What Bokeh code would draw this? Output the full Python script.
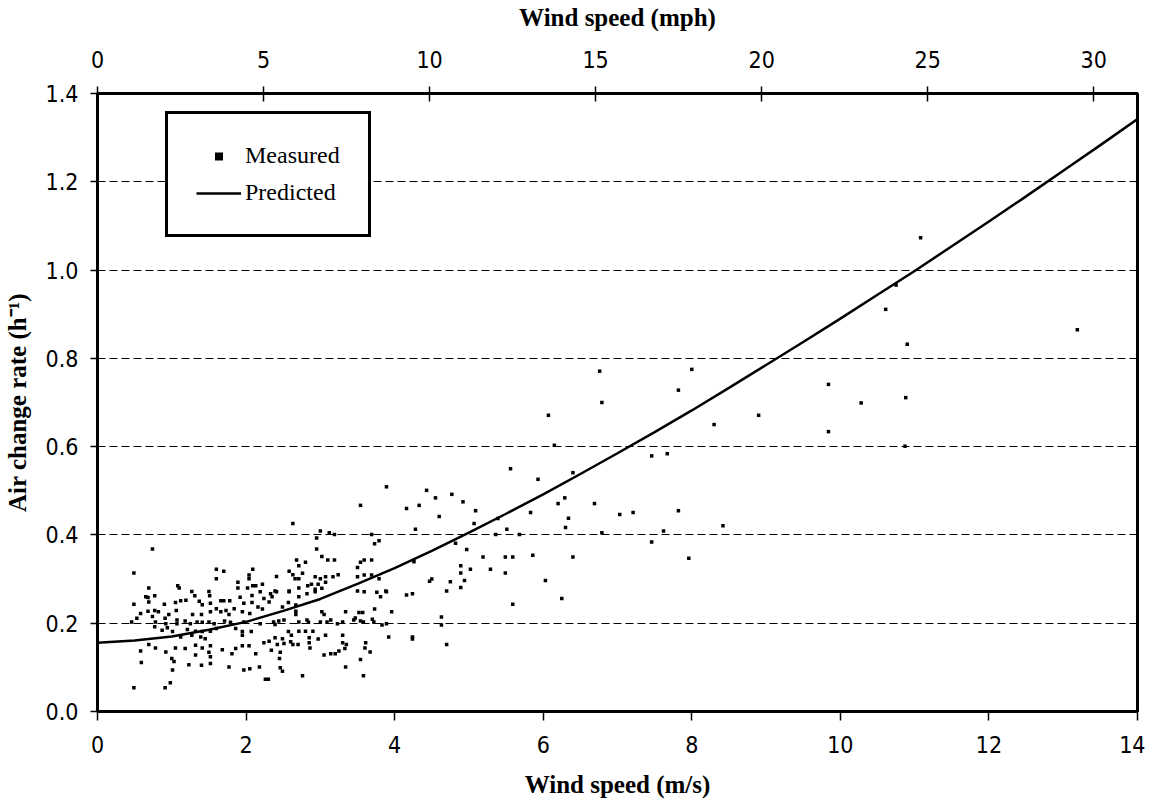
from bokeh.plotting import figure
from bokeh.models import Range1d, LinearAxis, Legend, LegendItem, FixedTicker, PrintfTickFormatter
from bokeh.embed import file_html
from bokeh.resources import INLINE

# Measured air change rate vs wind speed (m/s)
meas_x = [
    6.76, 6.79, 6.07, 8.00, 7.82, 8.90, 8.30, 6.15, 5.56, 7.46, 7.67, 5.93, 6.40,
    4.43, 4.77, 4.55, 4.16, 4.33, 4.92, 4.60, 5.09, 6.20, 6.29, 6.69, 7.03, 7.21, 7.82,
    4.28, 5.07, 5.39, 5.83, 6.34, 6.30, 5.51, 5.36, 5.68, 6.79, 8.42, 7.62, 7.46, 7.96,
    4.82, 4.26, 4.97, 5.19, 5.49, 5.59, 5.86, 6.40, 4.89, 5.02, 4.89, 5.29, 5.49,
    4.94, 4.47, 4.50, 4.75, 4.89, 6.03, 4.16, 4.24, 4.70, 6.25, 5.59, 4.63, 4.63,
    4.24, 4.24, 4.70, 11.08, 10.75, 10.61, 13.19, 10.90, 9.84, 10.28, 10.88, 9.84, 10.87,
    3.89, 3.54, 2.63, 3.00, 3.12, 3.19, 2.95, 3.69, 3.79, 3.73, 2.95, 3.02, 3.10, 3.19,
    2.68, 2.80, 2.71, 3.59, 3.69, 3.54, 2.58, 2.63, 2.76, 3.50, 2.66, 2.71, 2.41, 2.93,
    3.00, 3.07, 3.17, 3.24, 3.07, 2.97, 2.88, 2.83, 2.71, 3.50, 3.59, 3.69, 3.79, 2.22,
    2.13, 2.39, 2.58, 2.93, 3.02, 3.88,
    0.74, 0.49, 1.60, 1.70, 1.60, 2.09, 2.04, 2.04, 1.89, 1.89, 2.02, 2.09, 0.69, 1.08,
    1.10, 1.27, 1.50,
    0.77, 0.68, 1.31, 1.51, 1.92, 2.08, 0.49, 0.69, 0.90, 1.05, 1.12, 1.19, 1.37, 1.41,
    1.52, 1.66, 1.70, 1.78, 1.97, 2.08, 0.58, 0.68, 0.77, 0.82, 0.96, 1.06, 1.28, 1.40,
    1.52, 1.60, 1.66, 1.73, 1.77, 1.84, 1.95, 2.05, 0.53, 0.46, 0.74, 0.78, 0.91, 0.92,
    1.07, 1.07, 1.18, 1.25, 1.34, 1.41, 1.50, 1.57, 1.71, 1.79, 1.97, 0.77, 0.87, 0.94,
    1.01, 1.21, 1.32, 1.41, 1.52, 1.60, 1.86, 1.95, 2.07, 1.12, 1.27, 1.39, 1.45, 1.95,
    0.69, 0.58, 0.78, 0.92, 1.05, 1.18, 1.32, 1.41, 1.52, 1.68, 1.86, 1.95, 2.04, 1.81,
    1.32, 1.50, 1.52, 0.59, 1.00, 1.03, 1.23, 1.40, 1.52, 1.77, 1.97, 2.05, 1.01, 0.98,
    0.91, 0.49, 0.65,
    2.19, 2.33, 2.41, 2.24, 2.31, 2.35, 2.58, 2.71, 2.82, 2.93, 2.57, 2.67, 3.50, 3.59,
    3.76, 3.81, 3.89, 2.16, 2.22, 2.49, 2.67, 2.67, 3.02, 3.05, 3.34, 3.52, 3.57, 3.73,
    3.96, 3.47, 3.45, 3.54, 3.58, 3.70, 3.72, 2.19, 2.37, 2.44, 2.51, 2.71, 2.82, 2.84,
    3.00, 3.09, 3.14, 3.23, 3.30, 3.83, 3.89, 2.39, 2.57, 2.61, 2.71, 2.80, 2.90, 2.85,
    2.97, 3.07, 3.30, 3.92, 2.24, 2.31, 2.39, 2.49, 2.51, 2.42, 2.60, 2.63, 2.70, 2.85,
    2.86, 3.30, 3.35, 3.33, 3.61, 3.60, 3.67, 2.34, 2.46, 2.13, 3.05, 3.14, 3.20, 3.25,
    2.45, 3.54, 2.46, 2.18, 2.49, 3.34, 2.76, 3.58, 2.26, 2.30,
]
meas_y = [
    0.771, 0.700, 0.671, 0.775, 0.728, 0.671, 0.650, 0.603, 0.550, 0.579, 0.584, 0.526, 0.541,
    0.501, 0.492, 0.484, 0.460, 0.467, 0.475, 0.442, 0.455, 0.471, 0.484, 0.471, 0.446, 0.451, 0.455,
    0.413, 0.426, 0.437, 0.451, 0.438, 0.417, 0.413, 0.401, 0.401, 0.405, 0.421, 0.409, 0.384, 0.347,
    0.381, 0.339, 0.367, 0.350, 0.350, 0.350, 0.354, 0.350, 0.330, 0.322, 0.314, 0.322, 0.314,
    0.297, 0.295, 0.300, 0.294, 0.281, 0.297, 0.264, 0.267, 0.273, 0.256, 0.243, 0.214, 0.196,
    0.169, 0.164, 0.152, 1.073, 0.966, 0.911, 0.865, 0.832, 0.741, 0.699, 0.711, 0.634, 0.601,
    0.509, 0.467, 0.426, 0.409, 0.405, 0.401, 0.393, 0.401, 0.387, 0.380, 0.368, 0.351, 0.343, 0.343,
    0.343, 0.338, 0.330, 0.343, 0.343, 0.338, 0.318, 0.310, 0.313, 0.326, 0.301, 0.301, 0.306, 0.305,
    0.301, 0.305, 0.305, 0.310, 0.293, 0.288, 0.288, 0.285, 0.280, 0.305, 0.309, 0.309, 0.301, 0.288,
    0.285, 0.273, 0.273, 0.277, 0.279, 0.273,
    0.368, 0.314, 0.322, 0.318, 0.301, 0.322, 0.309, 0.301, 0.293, 0.280, 0.280, 0.285, 0.280, 0.285,
    0.280, 0.272, 0.272,
    0.262, 0.258, 0.262, 0.262, 0.259, 0.263, 0.243, 0.248, 0.243, 0.247, 0.251, 0.252, 0.250, 0.242,
    0.245, 0.251, 0.251, 0.251, 0.245, 0.247, 0.222, 0.227, 0.229, 0.226, 0.220, 0.229, 0.220, 0.220,
    0.226, 0.233, 0.226, 0.229, 0.220, 0.233, 0.226, 0.222, 0.211, 0.203, 0.215, 0.203, 0.211, 0.199,
    0.207, 0.199, 0.205, 0.199, 0.203, 0.202, 0.203, 0.199, 0.205, 0.202, 0.203, 0.192, 0.184, 0.190,
    0.181, 0.186, 0.182, 0.181, 0.182, 0.188, 0.188, 0.181, 0.181, 0.169, 0.173, 0.169, 0.165, 0.173,
    0.152, 0.137, 0.144, 0.135, 0.144, 0.143, 0.150, 0.144, 0.149, 0.140, 0.143, 0.149, 0.149, 0.131,
    0.128, 0.134, 0.124, 0.111, 0.120, 0.113, 0.106, 0.105, 0.109, 0.101, 0.094, 0.097, 0.094, 0.065,
    0.054, 0.054, 0.260,
    0.271, 0.267, 0.271, 0.256, 0.248, 0.260, 0.271, 0.260, 0.267, 0.271, 0.247, 0.241, 0.273, 0.271,
    0.270, 0.260, 0.271, 0.237, 0.232, 0.237, 0.227, 0.220, 0.226, 0.220, 0.226, 0.224, 0.224, 0.232,
    0.226, 0.212, 0.207, 0.205, 0.203, 0.209, 0.203, 0.199, 0.203, 0.205, 0.207, 0.203, 0.207, 0.202,
    0.203, 0.203, 0.207, 0.199, 0.203, 0.196, 0.199, 0.197, 0.181, 0.173, 0.182, 0.182, 0.182, 0.167,
    0.164, 0.173, 0.173, 0.169, 0.156, 0.159, 0.167, 0.165, 0.154, 0.152, 0.158, 0.152, 0.152, 0.156,
    0.144, 0.156, 0.152, 0.143, 0.156, 0.144, 0.135, 0.139, 0.134, 0.131, 0.128, 0.131, 0.131, 0.137,
    0.120, 0.118, 0.099, 0.101, 0.091, 0.101, 0.081, 0.081, 0.073, 0.073,
]

# Predicted curve
pred_x = [0, 0.5, 1, 1.5, 2, 2.5, 3, 3.5, 4, 4.5, 5, 5.5, 6, 6.5, 7, 7.5, 8, 8.5, 9, 9.5,
          10, 10.5, 11, 11.5, 12, 12.5, 13, 13.5, 14]
pred_y = [0.156, 0.161, 0.170, 0.185, 0.203, 0.228, 0.255, 0.289, 0.325, 0.364, 0.405, 0.448,
          0.492, 0.538, 0.585, 0.633, 0.682, 0.733, 0.785, 0.837, 0.890, 0.944, 0.998, 1.054,
          1.110, 1.167, 1.225, 1.283, 1.342]

x_ticks = [0, 2, 4, 6, 8, 10, 12, 14]
mph_ticks = [0, 5, 10, 15, 20, 25, 30]
y_ticks = [0.0, 0.2, 0.4, 0.6, 0.8, 1.0, 1.2, 1.4]
grid_ticks = [0.2, 0.4, 0.6, 0.8, 1.0, 1.2]
MPH_PER_MPS = 2.23694

TICK_FONT = "'Liberation Sans Narrow', 'DejaVu Sans Condensed', 'Liberation Sans'"
SERIF = "Liberation Serif"

p = figure(frame_width=1040, frame_height=618,
           x_range=Range1d(0, 14), y_range=Range1d(0, 1.4),
           output_backend="svg", toolbar_location=None,
           min_border_left=89, min_border_top=93, min_border_right=8, min_border_bottom=80,
           background_fill_color="white", border_fill_color="white")

xa = p.below[0]
ya = p.left[0]

p.extra_x_ranges = {"mph": Range1d(0, 14 * MPH_PER_MPS)}
top = LinearAxis(x_range_name="mph", ticker=FixedTicker(ticks=mph_ticks))
p.add_layout(top, "above")

for ax in (xa, ya, top):
    ax.axis_line_color = "black"
    ax.axis_line_width = 3
    ax.major_tick_line_color = "black"
    ax.major_tick_line_width = 1.5
    ax.minor_tick_line_color = None
    ax.major_label_text_font = TICK_FONT
    ax.major_label_text_font_size = "23px"
    ax.major_label_text_color = "black"
    ax.axis_label_text_font = SERIF
    ax.axis_label_text_font_style = "bold"
    ax.axis_label_text_font_size = "25px"
    ax.axis_label_text_color = "black"

xa.ticker = FixedTicker(ticks=x_ticks)
xa.major_tick_in = 0
xa.major_tick_out = 9
xa.major_label_standoff = 15
xa.axis_label = "Wind speed (m/s)"
xa.axis_label_standoff = 15

ya.ticker = FixedTicker(ticks=y_ticks)
ya.formatter = PrintfTickFormatter(format="%.1f")
ya.major_tick_in = 0
ya.major_tick_out = 7
ya.major_label_standoff = 12
ya.axis_label = "Air change rate (h\u207b\u00b9)"
ya.axis_label_standoff = 12

top.major_tick_in = 8
top.major_tick_out = 7
top.major_label_standoff = 19
top.axis_label = "Wind speed (mph)"
top.axis_label_standoff = 17

p.xgrid.visible = False
p.ygrid.ticker = FixedTicker(ticks=grid_ticks)
p.ygrid.grid_line_color = "black"
p.ygrid.grid_line_dash = "8 4"
p.ygrid.grid_line_width = 1

p.outline_line_color = "black"
p.outline_line_width = 3
p.outline_line_alpha = 1

r_meas = p.scatter(meas_x, meas_y, marker="square", size=3.5, color="black", line_color=None)
r_pred = p.line(pred_x, pred_y, line_width=2.5, color="black")

legend = Legend(items=[LegendItem(label="Measured", renderers=[r_meas]),
                       LegendItem(label="Predicted", renderers=[r_pred])],
                location=(68, 474), border_line_color="black", border_line_width=3,
                border_line_alpha=1, background_fill_color="white", background_fill_alpha=1,
                padding=28, spacing=10, margin=0, glyph_width=45, glyph_height=20,
                label_standoff=4, label_text_font=SERIF, label_text_font_size="24px",
                label_text_color="black", label_height=20)
p.add_layout(legend)

open("out.html", "w").write(file_html(p, INLINE))
